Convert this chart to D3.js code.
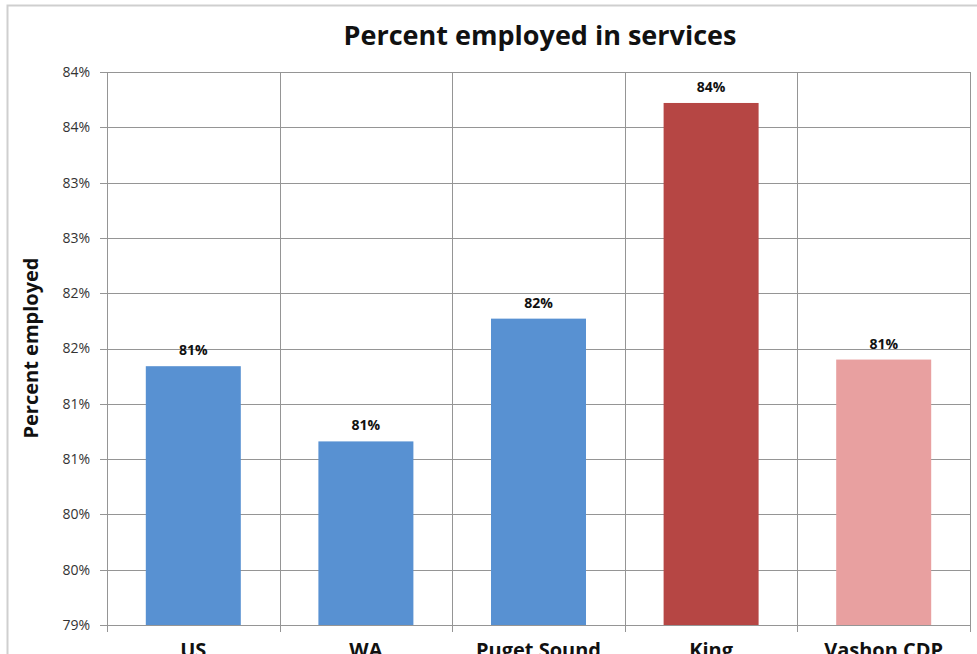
<!DOCTYPE html>
<html><head><meta charset="utf-8">
<script src="https://cdn.jsdelivr.net/npm/d3@7"></script>
<style>body{margin:0;background:#fff;}svg{display:block;}</style>
</head><body>
<svg id="c" width="977" height="654"></svg>
<script>
const categories = ["US", "WA", "Puget Sound", "King", "Vashon CDP"];
const values = [81.34, 80.66, 81.77, 83.72, 81.40];
const valueLabels = ["81%", "81%", "82%", "84%", "81%"];
const barColors = ["#5891d2", "#5891d2", "#5891d2", "#b64644", "#e8a0a0"];
const yTicks = [79, 79.5, 80, 80.5, 81, 81.5, 82, 82.5, 83, 83.5, 84];
const yTickLabels = ["79%", "80%", "80%", "81%", "81%", "82%", "82%", "83%", "83%", "84%", "84%"];
const title = "Percent employed in services";
const yTitle = "Percent employed";

const svg = d3.select("#c");
const font = "'Open Sans', 'Liberation Sans', sans-serif";
const L = 107, R = 970, T = 72, B = 625;

// outer chart border
svg.append("path").attr("d", `M977,5.5 H7.5 V654`).attr("fill","none").attr("stroke","#cfcfcf").attr("stroke-width",2);

const x = d3.scaleBand().domain(categories).range([L, R]).paddingInner(0).paddingOuter(0);
const y = d3.scaleLinear().domain([79, 84]).range([B, T]);

// horizontal gridlines
svg.append("g").selectAll("line").data(yTicks).join("line")
  .attr("x1", L - 7).attr("x2", R)
  .attr("y1", d => Math.round(y(d)) + 0.5).attr("y2", d => Math.round(y(d)) + 0.5)
  .attr("stroke", "#959595").attr("stroke-width", 1);

// vertical gridlines at category boundaries
const bounds = categories.map(c => x(c)).concat([R]);
svg.append("g").selectAll("line").data(bounds).join("line")
  .attr("x1", d => Math.round(d) + 0.5).attr("x2", d => Math.round(d) + 0.5)
  .attr("y1", T).attr("y2", B + 7)
  .attr("stroke", "#959595").attr("stroke-width", 1);

// y tick labels
svg.append("g").selectAll("text").data(yTicks).join("text")
  .attr("x", L - 17).attr("y", d => y(d)).attr("dy", "0.35em")
  .attr("text-anchor", "end").attr("font-family", font).attr("font-size", 14).attr("fill", "#333")
  .text((d, i) => yTickLabels[i]);

// bars
const bw = 95;
svg.append("g").selectAll("rect").data(values).join("rect")
  .attr("x", (d, i) => x(categories[i]) + (x.bandwidth() - bw) / 2)
  .attr("width", bw)
  .attr("y", d => y(d)).attr("height", d => B - y(d))
  .attr("fill", (d, i) => barColors[i]);

// value labels
svg.append("g").selectAll("text").data(values).join("text")
  .attr("x", (d, i) => x(categories[i]) + x.bandwidth() / 2)
  .attr("y", d => y(d) - 11)
  .attr("text-anchor", "middle").attr("font-family", font).attr("font-weight", "bold")
  .attr("font-size", 14).attr("fill", "#111")
  .text((d, i) => valueLabels[i]);

// category labels
svg.append("g").selectAll("text").data(categories).join("text")
  .attr("x", d => x(d) + x.bandwidth() / 2).attr("y", 657)
  .attr("text-anchor", "middle").attr("font-family", font).attr("font-weight", "bold")
  .attr("font-size", 20).attr("fill", "#111")
  .text(d => d);

// title
svg.append("text").attr("x", 540).attr("y", 45).attr("text-anchor", "middle")
  .attr("font-family", font).attr("font-weight", "bold").attr("font-size", 27).attr("fill", "#111")
  .text(title);

// y axis title
svg.append("text").attr("transform", "translate(38,348) rotate(-90)").attr("text-anchor", "middle")
  .attr("font-family", font).attr("font-weight", "bold").attr("font-size", 20).attr("fill", "#111")
  .text(yTitle);
</script>
</body></html>
